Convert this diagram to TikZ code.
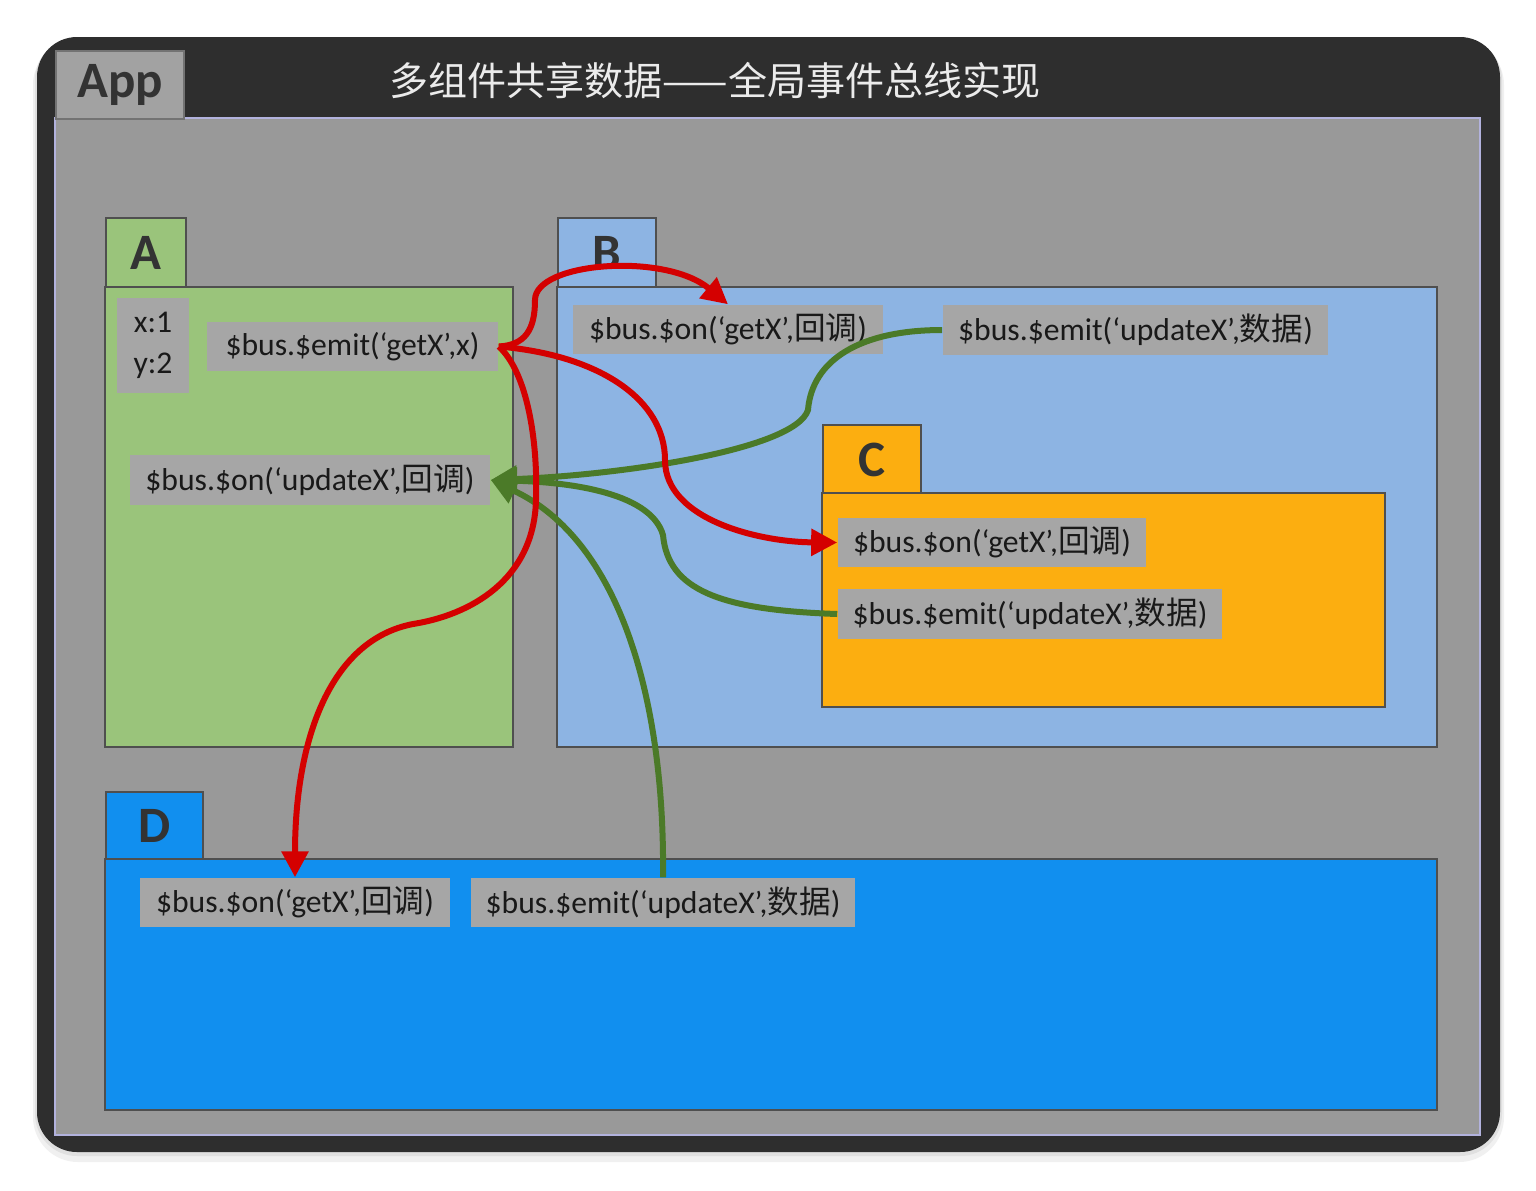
\documentclass[tikz,border=0pt]{standalone}
\usepackage{fontspec}
\usepackage{tikz}
\usetikzlibrary{arrows.meta}
\setmainfont{Carlito}
\newfontfamily\cjk{Noto Sans CJK SC}
\newcommand{\zh}[1]{{\cjk #1}}
\definecolor{framedark}{HTML}{2E2E2E}
\definecolor{appgray}{HTML}{999999}
\definecolor{tabgray}{HTML}{A2A2A2}
\definecolor{lblgray}{HTML}{A6A6A6}
\definecolor{agreen}{HTML}{9AC47B}
\definecolor{bblue}{HTML}{8DB4E3}
\definecolor{corange}{HTML}{FCAE10}
\definecolor{dblue}{HTML}{118FEF}
\definecolor{busred}{HTML}{D40000}
\definecolor{busgreen}{HTML}{4B7A28}
\definecolor{edge}{HTML}{4F4F4F}

\begin{document}
\begin{tikzpicture}[
  x=0.01cm, y=-0.01cm,
  panel/.style={draw=edge, line width=0.02cm},
  tab/.style={panel, anchor=north west, inner sep=0, font=\fontsize{14.5}{16}\selectfont\bfseries, text=black!80},
  lbl/.style={fill=lblgray, inner sep=0, minimum height=0.49cm, font=\fontsize{9}{11}\selectfont, text=black!90},
  redarr/.style={-{Triangle[length=0.26cm,width=0.26cm]}, line width=0.06cm, draw=busred},
  greenarr/.style={-{Triangle[length=0.26cm,width=0.26cm]}, line width=0.06cm, draw=busgreen}
]
  \useasboundingbox[fill=white] (0,0) rectangle (1536,1190);
  % frame and shadow
  \fill[black!6, rounded corners=0.45cm] (33,40) rectangle (1504,1162);
  \fill[black!12, rounded corners=0.42cm] (35,38) rectangle (1502,1156);
  \fill[framedark, rounded corners=0.4cm] (37,37) rectangle (1500,1152);
  \filldraw[fill=appgray, draw=black!45!blue!30, line width=0.02cm] (55,118) rectangle (1480,1135);
  \node[tab, fill=tabgray, draw=black!55, minimum width=1.28cm, minimum height=0.68cm] (apptab) at (55,50) {App};
  \node[font=\cjk\fontsize{11.1}{13}\selectfont, text=black!8] (title) at (715,80) {多组件共享数据——全局事件总线实现};

  % components
  \node[tab, fill=agreen, minimum width=0.80cm, minimum height=0.70cm] (tabA) at (105,217) {A};
  \filldraw[panel, fill=agreen] (105,287) rectangle (513,747);
  \node[tab, fill=bblue, minimum width=0.98cm, minimum height=0.70cm] (tabB) at (557,217) {B};
  \filldraw[panel, fill=bblue] (557,287) rectangle (1437,747);
  \node[tab, fill=corange, minimum width=0.98cm, minimum height=0.69cm] (tabC) at (822,424) {C};
  \filldraw[panel, fill=corange] (822,493) rectangle (1385,707);
  \node[tab, fill=dblue, minimum width=0.97cm, minimum height=0.68cm] (tabD) at (105,791) {D};
  \filldraw[panel, fill=dblue] (105,859) rectangle (1437,1110);

  % labels
  \node[lbl, minimum width=0.72cm, minimum height=0.95cm, align=center, font=\fontsize{9}{11.7}\selectfont] (dataA) at (153,345.5) {x:1\\y:2};
  \node[lbl, minimum width=2.91cm] (emitA) at (352.5,346.5) {\$bus.\$emit(‘getX’,x)};
  \node[lbl, minimum width=3.60cm, minimum height=0.50cm] (onA) at (310,480) {\$bus.\$on(‘updateX’,\zh{回调})};
  \node[lbl, minimum width=3.10cm] (onB) at (728,329.5) {\$bus.\$on(‘getX’,\zh{回调})};
  \node[lbl, minimum width=3.85cm, minimum height=0.50cm] (emitB) at (1135.5,330) {\$bus.\$emit(‘updateX’,\zh{数据})};
  \node[lbl, minimum width=3.08cm] (onC) at (992,542.5) {\$bus.\$on(‘getX’,\zh{回调})};
  \node[lbl, minimum width=3.84cm, minimum height=0.50cm] (emitC) at (1030,614) {\$bus.\$emit(‘updateX’,\zh{数据})};
  \node[lbl, minimum width=3.10cm] (onD) at (295,902.5) {\$bus.\$on(‘getX’,\zh{回调})};
  \node[lbl, minimum width=3.84cm] (emitD) at (663,902.5) {\$bus.\$emit(‘updateX’,\zh{数据})};

  % updateX
  \draw[greenarr] (emitB.west) .. controls (860,330) and (812,360) .. (808,410)
    .. controls (795,450) and (620,475) .. (onA.east);
  \draw[greenarr] (emitC.west) .. controls (720,610) and (668,590) .. (663,535)
    .. controls (650,490) and (560,482) .. (onA.east);
  \draw[greenarr] (emitD.north) .. controls (665,700) and (620,540) .. (onA.east);

  % getX
  \draw[redarr] (emitA.east) .. controls (525,345) and (535,330) .. (535,300)
    .. controls (535,262) and (665,252) .. (onB.north);
  \draw[redarr] (emitA.east) .. controls (600,355) and (665,400) .. (665,460)
    .. controls (665,520) and (760,542) .. (onC.west);
  \draw[redarr] (emitA.east) .. controls (527,372) and (538,440) .. (536,500)
    .. controls (534,580) and (470,615) .. (413,624)
    .. controls (330,640) and (295,740) .. (onD.north);
\end{tikzpicture}
\end{document}
